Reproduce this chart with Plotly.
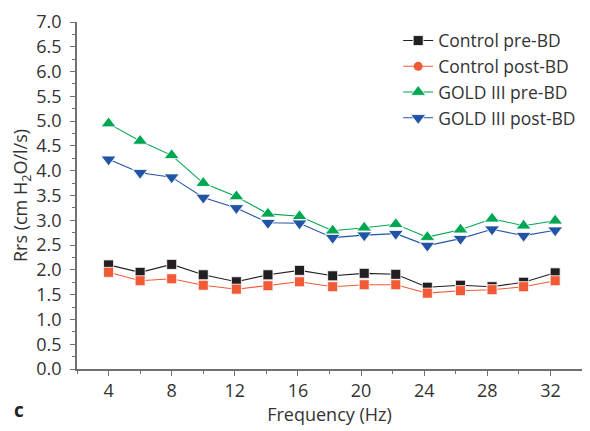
import plotly.graph_objects as go

freq = [4, 6, 8, 10, 12.1, 14.1, 16.1, 18.2, 20.2, 22.2, 24.2, 26.3, 28.3, 30.3, 32.3]
control_pre = [2.10, 1.95, 2.11, 1.90, 1.76, 1.90, 1.99, 1.88, 1.93, 1.91, 1.65, 1.69, 1.66, 1.75, 1.94]
control_post = [1.95, 1.78, 1.82, 1.69, 1.61, 1.68, 1.76, 1.66, 1.70, 1.70, 1.53, 1.58, 1.60, 1.66, 1.78]
gold_pre = [4.95, 4.60, 4.31, 3.75, 3.48, 3.13, 3.08, 2.79, 2.85, 2.92, 2.66, 2.81, 3.03, 2.89, 2.99]
gold_post = [4.23, 3.96, 3.87, 3.46, 3.25, 2.95, 2.94, 2.65, 2.70, 2.73, 2.49, 2.63, 2.82, 2.69, 2.80]

names = ["Control pre-BD", "Control post-BD", "GOLD III pre-BD", "GOLD III post-BD"]
x_ticks = [4, 8, 12, 16, 20, 24, 28, 32]

c_black = "#231f20"
c_red = "#f15a37"
c_green = "#00a651"
c_blue = "#2254a6"

font = "Open Sans, Noto Sans, sans-serif"
txt = "#333333"
axis_col = "#707070"
fs = 18

fig = go.Figure()

def add(y, name, color, symbol, size, legend=True, rank=None):
    fig.add_trace(go.Scatter(
        x=freq, y=y, name=name, mode="lines+markers",
        line=dict(color=color, width=1.1),
        marker=dict(symbol=symbol, size=size, color=color,
                    line=dict(color="white", width=0.8)),
        showlegend=legend, legendrank=rank if rank else 1000,
    ))

add(control_pre, names[0], c_black, "square", 10, rank=1)
# Control post-BD: squares in the plot, circle in the legend
add(control_post, names[1], c_red, "square", 10, legend=False)
fig.add_trace(go.Scatter(
    x=[None], y=[None], name=names[1], mode="lines+markers",
    line=dict(color=c_red, width=1.1),
    marker=dict(symbol="circle", size=9, color=c_red),
    legendrank=2,
))
add(gold_pre, names[2], c_green, "triangle-up", 13, rank=3)
add(gold_post, names[3], c_blue, "triangle-down", 13, rank=4)

# The page body keeps the browser's default 8 px margin, so the figure is
# sized 8 px smaller in each direction to fill the 590x431 window.
fig.update_layout(
    width=582, height=423,
    margin=dict(l=69, r=8, t=14, b=62),
    paper_bgcolor="white", plot_bgcolor="white",
    font=dict(family=font, size=fs, color=txt),
    showlegend=True,
    legend=dict(
        x=0.636, y=0.998, xanchor="left", yanchor="top",
        bgcolor="rgba(0,0,0,0)", font=dict(size=17.5, color=txt),
        tracegroupgap=0,
    ),
    xaxis=dict(
        range=[2, 34], tickmode="array", tickvals=x_ticks,
        ticktext=[str(v) for v in x_ticks], automargin=False,
        showgrid=False, zeroline=False,
        showline=True, linecolor=axis_col, linewidth=1.5,
        ticks="outside", ticklen=5, tickwidth=1.2, tickcolor=axis_col,
        minor=dict(ticks="outside", dtick=2, tick0=0, ticklen=3, tickwidth=1.2, tickcolor=axis_col),
        tickfont=dict(size=fs, color=txt),
        title=dict(text="Frequency (Hz)", font=dict(size=fs, color=txt), standoff=0),
    ),
    yaxis=dict(
        range=[0, 7], dtick=0.5, tick0=0, tickformat=".1f", automargin=False,
        showgrid=False, zeroline=False,
        showline=True, linecolor=axis_col, linewidth=1.5,
        ticks="outside", ticklen=5, tickwidth=1.2, tickcolor=axis_col,
        ticklabelstandoff=5,
        minor=dict(ticks="outside", dtick=0.25, ticklen=3, tickwidth=1.2, tickcolor=axis_col),
        tickfont=dict(size=fs, color=txt),
        title=dict(text="Rrs (cm H<sub>2</sub>O/l/s)", font=dict(size=fs, color=txt), standoff=6),
    ),
    annotations=[dict(
        text="<b>c</b>", xref="paper", yref="paper", x=-0.129, y=-0.117,
        xanchor="left", yanchor="middle", showarrow=False,
        font=dict(size=19, color="#222222", family=font),
    )],
)

fig.write_html("out.html")
